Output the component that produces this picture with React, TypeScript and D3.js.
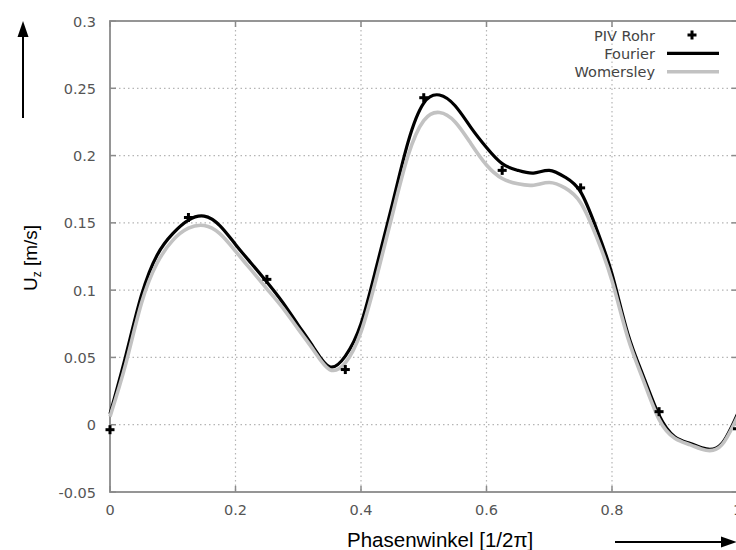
import React from "react";
import * as d3 from "d3";

const phase = [0,0.025,0.05,0.075,0.1,0.125,0.15,0.175,0.2,0.225,0.25,0.275,0.3,0.325,0.35,0.375,0.4,0.425,0.45,0.475,0.5,0.525,0.55,0.575,0.6,0.625,0.65,0.675,0.7,0.725,0.75,0.775,0.8,0.825,0.85,0.875,0.9,0.925,0.95,0.975,1.0];
const fourier = [0.008,0.051,0.096,0.126,0.142,0.152,0.155,0.148,0.134,0.120,0.106,0.091,0.074,0.057,0.043,0.051,0.075,0.118,0.164,0.210,0.239,0.245,0.237,0.221,0.206,0.194,0.189,0.187,0.189,0.184,0.173,0.146,0.112,0.068,0.036,0.007,-0.009,-0.014,-0.018,-0.014,0.008];
const womersley = [0.006,0.045,0.090,0.120,0.137,0.146,0.148,0.142,0.129,0.115,0.101,0.087,0.071,0.055,0.041,0.046,0.069,0.110,0.156,0.200,0.226,0.232,0.225,0.209,0.193,0.183,0.179,0.178,0.180,0.176,0.165,0.140,0.107,0.065,0.033,0.004,-0.010,-0.015,-0.019,-0.015,0.006];
const pivPhase = [0,0.125,0.25,0.375,0.5,0.625,0.75,0.875,1.0];
const pivRohr = [-0.0037,0.154,0.108,0.041,0.243,0.189,0.176,0.0097,-0.003];
const xTicks = [0,0.2,0.4,0.6,0.8,1];
const xTickLabels = ["0","0.2","0.4","0.6","0.8","1"];
const yTicks = [-0.05,0,0.05,0.1,0.15,0.2,0.25,0.3];
const yTickLabels = ["-0.05","0","0.05","0.1","0.15","0.2","0.25","0.3"];
const legendLabels = ["PIV Rohr","Fourier","Womersley"];

const W = 736, H = 550;
const L = 110, R = 737.5, T = 21, B = 492;

export default function App() {
  const x = d3.scaleLinear().domain([0, 1]).range([L, R]);
  const y = d3.scaleLinear().domain([-0.05, 0.3]).range([B, T]);
  const line = (vals: number[]) =>
    d3.line<number>().x((_, i) => x(phase[i])).y((d) => y(d)).curve(d3.curveNatural)(vals) || "";
  const axisCol = "#8a8a8a";
  const gridCol = "#b5b5b5";
  const tickFont = "'DejaVu Sans', sans-serif";
  const plus = (cx: number, cy: number, k: string) => (
    <g key={k}>
      <line x1={cx - 4.5} x2={cx + 4.5} y1={cy} y2={cy} stroke="#000" strokeWidth={3} />
      <line x1={cx} x2={cx} y1={cy - 4.5} y2={cy + 4.5} stroke="#000" strokeWidth={3} />
    </g>
  );
  return (
    <svg width={W} height={H} style={{ position: "absolute", left: 0, top: 0, background: "#fff" }}>
      <rect width={W} height={H} fill="#fff" />
      {xTicks.slice(1, -1).map((t) => (
        <line key={"gx" + t} x1={x(t)} x2={x(t)} y1={T} y2={B} stroke={gridCol} strokeWidth={1.2} strokeDasharray="1.5,3" />
      ))}
      {yTicks.slice(1, -1).map((t) => (
        <line key={"gy" + t} x1={L} x2={R} y1={y(t)} y2={y(t)} stroke={gridCol} strokeWidth={1.2} strokeDasharray="1.5,3" />
      ))}
      {xTicks.map((t, i) => (
        <g key={"tx" + t}>
          <line x1={x(t)} x2={x(t)} y1={B} y2={B - 6} stroke={axisCol} strokeWidth={1.5} />
          <line x1={x(t)} x2={x(t)} y1={T} y2={T + 6} stroke={axisCol} strokeWidth={1.5} />
          <text x={x(t)} y={515} textAnchor="middle" fontFamily={tickFont} fontSize={14.5} fill="#555">
            {xTickLabels[i]}
          </text>
        </g>
      ))}
      {yTicks.map((t, i) => (
        <g key={"ty" + t}>
          <line x1={L} x2={L + 6} y1={y(t)} y2={y(t)} stroke={axisCol} strokeWidth={1.5} />
          <line x1={R} x2={R - 6} y1={y(t)} y2={y(t)} stroke={axisCol} strokeWidth={1.5} />
          <text x={96} y={y(t) + 5.5} textAnchor="end" fontFamily={tickFont} fontSize={14.5} fill="#555">
            {yTickLabels[i]}
          </text>
        </g>
      ))}
      <rect x={L} y={T} width={R - L} height={B - T} fill="none" stroke={axisCol} strokeWidth={1.8} />
      <path d={line(fourier)} fill="none" stroke="#000" strokeWidth={3.2} strokeLinejoin="round" />
      <path d={line(womersley)} fill="none" stroke="#c2c2c2" strokeWidth={3.6} strokeLinejoin="round" />
      {pivPhase.map((p, i) => plus(x(p), y(pivRohr[i]), "p" + i))}
      <g fontFamily={tickFont} fontSize={14.5} fill="#444" textAnchor="end">
        <text x={655} y={40.5}>{legendLabels[0]}</text>
        <text x={655} y={59}>{legendLabels[1]}</text>
        <text x={655} y={77}>{legendLabels[2]}</text>
      </g>
      {plus(692, 35, "leg")}
      <line x1={667} x2={719} y1={53.3} y2={53.3} stroke="#000" strokeWidth={3.2} />
      <line x1={667} x2={719} y1={71.7} y2={71.7} stroke="#c2c2c2" strokeWidth={3.6} />
      <text x={347} y={547} fontFamily="'Liberation Sans', Arial, sans-serif" fontSize={20.5} fill="#000">
        Phasenwinkel [1/2π]
      </text>
      <text transform="translate(37,258) rotate(-90)" textAnchor="middle" fontFamily="'Liberation Sans', Arial, sans-serif" fontSize={19} fill="#000">
        U<tspan fontSize={12} dy={4}>z</tspan><tspan dy={-4}> [m/s]</tspan>
      </text>
      <line x1={23} x2={23} y1={118} y2={34} stroke="#000" strokeWidth={2} />
      <path d="M23,21 L17.5,37 L28.5,37 Z" fill="#000" />
      <line x1={615} x2={724} y1={542} y2={542} stroke="#000" strokeWidth={2} />
      <path d="M737,542 L721,536.5 L721,547.5 Z" fill="#000" />
    </svg>
  );
}
